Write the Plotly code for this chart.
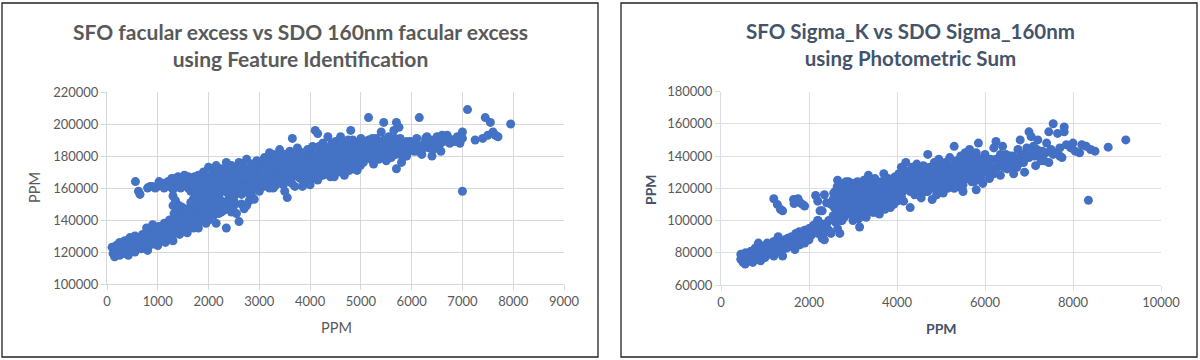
import plotly.graph_objects as go

# ---------------- Left chart: Feature Identification (x in PPM, y in thousands of PPM) ----------------
fi_points = [
    (100,123),(120,119),(150,121),(150,117),(180,124),(200,120),(220,122),(250,118),(250,126),(280,121),
    (300,124),(320,119),(350,122),(350,127),(380,120),(400,125),(420,118),(450,123),(450,129),(480,121),
    (500,126),(520,124),(550,130),(550,120),(580,127),(600,123),(620,129),(650,125),(680,122),(700,131),(700,127),
    (750,126),(780,135),(800,129),(800,121),(830,124),(850,132),(880,127),(900,137),(900,130),(920,125),
    (950,128),(980,133),(1000,124),(1000,130),(1020,136),(1050,127),(1080,132),(1100,129),(1100,134),(1130,138),
    (1150,126),(1180,131),(1200,135),(1200,128),(1230,140),(1250,133),(1280,130),(1300,127),(1300,137),(1300,149),
    (1320,144),(1350,133),(1380,140),(1400,146),(1400,136),(1430,131),(1450,142),(1480,148),(1500,138),(1500,134),
    (1530,145),(1550,140),(1580,132),(1600,147),(1600,137),(1630,143),(1650,139),(1680,150),(1700,135),(1700,145),
    (1730,141),(1750,148),(1780,137),(1800,144),(1800,135),(1830,151),(1850,140),(1880,146),(1900,152),(1900,142),
    (1930,148),(1950,138),(1980,144),(2000,150),(2000,140),(2050,147),(2100,153),(2100,143),(2150,138),(2200,149),
    (2250,145),(2300,151),(2350,135),(2350,147),(2400,153),(2450,145),(2500,149),(2550,144),(2600,139),(2650,150),
    (2700,147),(2750,149),(2800,152),(2850,155),(2900,153),
    (130,122),(170,119),(230,125),(270,119),(330,123),(370,125),(430,121),(470,126),(530,128),(570,123),
    (630,126),(670,129),(730,129),(770,124),(820,131),(860,128),(940,132),(970,126),(1040,131),(1070,135),
    (1120,131),(1170,134),(1220,132),(1270,138),(1340,139),(1360,143),(1420,139),(1460,137),(1520,141),(1560,146),
    (1620,140),(1660,145),(1720,148),(1760,140),(1820,146),(1870,143),(1920,145),(1970,149),
    (200,123),(300,121),(400,122),(500,123),(600,126),(700,124),(800,126),(900,128),(1000,127),(1100,131),
    (1200,131),(1300,133),(1400,141),(1500,143),(1600,142),(1700,140),(1800,140),(1900,147),(2000,145),(2100,148),
    (2200,144),(2300,146),(2400,149),(2500,152),
    (1350,152),(1420,149),(1700,153),(1750,150),(1800,152),(1850,155),(1650,151),(1900,149),(2050,152),(2250,152),(2450,151),
    (560,164),(620,158),(650,156),(800,160),(850,161),(900,161),(950,160),(1000,161),(1050,162),(1100,163),
    (1150,162),(1200,164),(1250,163),(1300,165),(1300,159),(1300,155),(1350,166),(1400,162),(1400,167),(1450,160),
    (1500,165),(1550,163),(1600,167),(1600,160),(1650,158),(1700,165),(1750,162),(1750,155),(1800,168),(1800,158),
    (1850,164),(1900,161),(1900,170),(1950,166),(1950,156),(2000,173),(2000,163),(2000,154),
    (1025,164),(1125,160),(1225,161),(1275,166),(1375,164),(1425,165),(1475,163),(1525,168),(1575,161),(1625,164),
    (1675,162),(1725,167),(1775,165),(1825,162),(1875,167),(1925,164),(1975,160),
    (2050,168),(2050,159),(2100,171),(2100,162),(2100,156),(2150,166),(2150,174),(2200,160),(2200,169),(2200,155),
    (2250,172),(2250,163),(2300,167),(2300,158),(2350,176),(2350,161),(2400,170),(2400,165),(2400,156),(2450,174),
    (2450,160),(2500,168),(2500,163),(2500,155),(2550,172),(2550,158),(2600,166),(2600,176),(2600,161),(2650,170),
    (2650,156),(2700,173),(2700,164),(2700,159),(2750,178),(2750,167),(2800,171),(2800,162),(2800,157),(2850,175),
    (2850,166),(2900,169),(2900,160),(2950,177),(2950,164),(3000,172),(3000,167),(3000,158),
    (2025,165),(2075,157),(2125,169),(2175,161),(2225,166),(2275,159),(2325,171),(2375,164),(2425,168),(2475,158),
    (2525,166),(2575,170),(2625,163),(2675,167),(2725,161),(2775,171),(2825,165),(2875,170),(2925,163),(2975,168),
    (2075,164),(2175,170),(2275,168),(2375,157),(2475,171),(2575,162),(2675,175),(2775,157),(2875,159),(2975,174),
    (2040,161),(2090,166),(2140,158),(2190,165),(2240,168),(2290,163),(2340,166),(2390,160),(2440,165),(2490,173),
    (2540,163),(2590,157),(2640,173),(2690,161),(2740,171),(2790,167),(2840,160),(2890,173),(2940,167),(2990,162),
    (3050,175),(3050,163),(3100,170),(3100,179),(3150,166),(3150,174),(3200,182),(3200,169),(3200,160),(3250,177),
    (3250,165),(3300,172),(3300,180),(3300,161),(3350,168),(3350,176),(3400,184),(3400,171),(3400,163),(3450,178),
    (3450,166),(3500,174),(3500,181),(3500,158),(3550,169),(3550,154),(3550,177),(3600,183),(3600,172),(3600,164),
    (3650,191),(3650,176),(3650,167),(3700,180),(3700,170),(3700,161),(3750,185),(3750,174),(3800,178),(3800,166),
    (3850,182),(3850,171),(3850,161),(3900,176),(3900,168),(3950,184),(3950,173),(4000,179),(4000,170),(4000,162),
    (3025,168),(3075,172),(3125,164),(3175,177),(3225,171),(3275,160),(3325,174),(3375,166),(3425,181),(3475,170),
    (3525,165),(3575,173),(3625,168),(3675,180),(3725,176),(3775,167),(3825,175),(3875,165),(3925,179),(3975,166),
    (3075,167),(3175,162),(3275,181),(3375,172),(3475,162),(3575,180),(3675,172),(3775,181),(3875,177),(3975,176),
    (3040,170),(3090,161),(3140,177),(3190,172),(3240,168),(3290,176),(3340,163),(3390,178),(3440,173),(3490,167),
    (3540,172),(3590,176),(3640,163),(3690,175),(3740,170),(3790,173),(3840,168),(3890,172),(3940,169),(3990,183),
    (4050,186),(4050,175),(4050,166),(4100,196),(4100,181),(4100,171),(4150,194),(4150,178),(4150,165),(4200,184),
    (4200,173),(4250,188),(4250,177),(4250,168),(4300,182),(4300,171),(4350,192),(4350,179),(4400,185),(4400,174),
    (4400,167),(4450,181),(4450,172),(4500,189),(4500,177),(4550,184),(4550,170),(4600,192),(4600,180),(4650,186),
    (4650,174),(4700,183),(4700,171),(4750,190),(4750,178),(4800,196),(4800,185),(4800,175),(4850,181),(4850,172),
    (4900,188),(4900,178),(4950,184),(4950,174),(5000,191),(5000,180),
    (4025,172),(4075,180),(4125,175),(4175,186),(4225,170),(4275,183),(4325,175),(4375,169),(4425,188),(4475,177),
    (4525,173),(4575,186),(4625,176),(4675,189),(4725,174),(4775,183),(4825,179),(4875,186),(4925,171),(4975,186),
    (4075,169),(4175,167),(4275,174),(4375,185),(4475,167),(4575,179),(4675,168),(4775,171),(4875,176),(4975,177),
    (4040,178),(4090,176),(4140,170),(4190,178),(4240,182),(4290,178),(4340,172),(4390,180),(4440,176),(4490,183),
    (4540,180),(4590,174),(4640,182),(4690,178),(4740,186),(4790,179),(4840,190),(4890,183),(4940,179),(4990,174),
    (5050,186),(5050,176),(5100,183),(5150,204),(5150,190),(5200,187),(5200,178),(5250,184),(5250,175),(5300,191),
    (5300,181),(5350,188),(5350,178),(5400,195),(5400,184),(5450,201),(5450,190),(5450,180),(5500,187),(5500,177),
    (5550,192),(5550,183),(5600,188),(5600,179),(5650,196),(5650,185),(5700,201),(5700,190),(5700,172),(5750,198),
    (5750,182),(5800,187),(5800,176),(5850,183),(5900,189),(5900,180),(5950,185),
    (5025,182),(5075,189),(5125,179),(5175,184),(5225,191),(5275,180),(5325,186),(5375,183),(5425,187),(5475,184),
    (5525,179),(5575,187),(5625,182),(5675,191),(5725,186),(5775,191),(5825,179),(5875,186),(5925,183),(5975,189),
    (5040,179),(5090,184),(5140,186),(5190,181),(5240,187),(5290,185),(5340,182),(5390,180),(5440,184),(5490,190),
    (5540,187),(5590,184),(5640,189),(5690,181),(5740,183),(5790,184),(5840,188),(5890,184),(5940,188),
    (6000,188),(6050,183),(6100,191),(6150,204),(6150,186),(6200,181),(6250,188),(6300,192),(6350,185),(6400,180),
    (6450,189),(6500,192),(6550,187),(6600,193),(6650,190),(6700,193),(6750,188),(6800,190),(6950,188),(7000,195),
    (6025,185),(6075,188),(6125,183),(6225,185),(6275,191),(6325,187),(6375,190),(6425,184),(6525,190),(6575,183),
    (6625,189),(6725,191),(6850,189),(6900,192),
    (7000,191),(7000,158),(7100,209),(7250,190),(7400,191),(7450,204),(7500,193),(7550,201),(7600,195),(7650,193),
    (7700,192),(7950,200),
]

# ---------------- Right chart: Photometric Sum (x in PPM, y in thousands of PPM) ----------------
ps_points = [
    (450,79),(450,76),(500,74),(520,78),(550,73),(560,80),(600,76),(620,79),(650,75),(680,81),
    (700,77),(720,74),(750,79),(780,83),(800,76),(820,80),(850,86),(850,78),(880,82),(900,75),
    (920,79),(950,84),(980,80),(1000,77),(1020,83),(1050,86),(1080,79),(1100,82),(1150,85),(1150,80),
    (1200,83),(1200,78),(1250,86),(1280,81),(1300,90),(1320,84),(1350,87),(1400,82),(1400,78),(1450,88),
    (1480,85),(1500,83),(1520,89),(1550,86),(1600,90),(1600,84),(1650,88),(1680,82),(1700,92),(1720,86),
    (1750,89),(1780,93),(1800,85),(1820,91),(1850,88),(1900,94),(1900,89),(1950,92),(2000,88),(2000,95),
    (2050,91),(2100,97),(2150,93),(2200,100),(2250,96),(2300,89),(2350,88),(2400,98),(2450,94),(2500,92),
    (2550,103),(2600,99),(2650,95),(2700,92),(2750,100),
    (470,78),(530,76),(580,78),(630,77),(670,78),(730,80),(770,77),(830,82),(870,80),(930,82),
    (970,78),(1030,80),(1070,82),(1120,84),(1170,82),(1230,84),(1270,83),(1330,86),(1380,85),(1430,86),
    (1470,83),(1530,87),(1580,88),(1630,86),(1700,88),(1770,87),(1830,89),(1880,91),(1930,90),(1980,93),
    (2030,94),(2080,92),(2130,96),(2180,95),(2280,98),(2330,94),(2450,100),
    (500,77),(600,78),(700,80),(800,79),(900,81),(1000,81),(1100,85),(1200,87),(1300,86),(1400,85),
    (1500,87),(1600,87),(1700,85),(1800,89),(1900,86),(2000,91),(2100,94),(2200,92),(2300,95),(2400,93),
    (1200,113.5),(1280,110),(1350,107),(1400,106),(1650,113),(1660,110.5),(1750,113.5),(1800,111),(1850,110),(1900,109),
    (2150,115.5),(2200,112),(2250,106),(2300,106),(2350,116),(2400,111),(2200,100),
    (2500,110),(2550,113),(2600,118),(2650,125),(2650,115),(2700,121),(2700,110),(2750,117),(2750,106),(2800,122),
    (2800,112),(2800,102),(2850,119),(2850,108),(2900,124),(2900,115),(2900,104),(2950,120),(2950,110),(3000,123),
    (3000,116),(3000,106),(3000,100),(3050,119),(3050,112),(3100,124),(3100,109),(3100,103),(3150,117),(3150,96),
    (3200,121),(3200,113),(3200,106),(3250,125),(3250,116),(3300,120),(3300,110),(3300,102),(3350,128),(3350,117),
    (3400,123),(3400,112),(3450,119),(3450,105),(3500,126),(3500,115),(3550,121),(3550,108),(3600,117),(3600,104),
    (3650,124),(3650,113),(3700,129),(3700,119),(3750,122),(3750,110),(3800,126),(3800,116),(3850,120),(3850,108),
    (3900,124),(3900,114),(3950,127),(3950,118),(4000,122),(4000,112),
    (2575,108),(2625,112),(2675,118),(2725,113),(2775,120),(2825,115),(2875,112),(2925,118),(2975,113),(3025,121),
    (3075,106),(3125,114),(3175,120),(3225,110),(3275,121),(3325,114),(3375,120),(3425,116),(3475,122),(3525,112),
    (3575,118),(3625,121),(3675,116),(3725,124),(3775,118),(3825,123),(3875,117),(3925,120),(3975,124),
    (2625,104),(2725,100),(2825,106),(2925,108),(3025,103),(3125,101),(3225,103),(3325,106),(3425,109),(3525,105),
    (3625,110),(3725,107),(3825,112),(3925,110),
    (2560,117),(2640,121),(2690,106),(2740,114),(2790,118),(2840,124),(2890,109),(2940,115),(2990,119),(3040,116),
    (3090,121),(3140,111),(3190,116),(3240,119),(3290,117),(3340,110),(3390,125),(3440,113),(3490,118),(3540,124),
    (3590,113),(3640,118),(3690,112),(3740,115),(3790,121),(3840,117),(3890,121),(3940,114),(3990,117),
    (4050,126),(4050,117),(4100,133),(4100,121),(4150,128),(4150,112),(4200,124),(4200,136),(4250,130),(4250,119),
    (4300,126),(4300,108),(4350,133),(4350,121),(4400,129),(4400,116),(4450,135),(4450,124),(4500,131),(4500,120),
    (4550,127),(4550,114),(4600,134),(4600,123),(4650,130),(4650,118),(4700,141),(4700,126),(4750,133),(4750,121),
    (4800,129),(4800,113),(4850,136),(4850,124),(4900,131),(4900,119),(4950,138),(4950,126),(5000,133),(5000,122),
    (5050,129),(5050,117),(5100,136),(5100,125),(5150,132),(5150,120),(5200,139),(5200,128),(5250,134),(5250,123),
    (5300,146),(5300,130),(5350,137),(5350,125),(5400,133),(5400,121),(5450,140),(5450,129),(5500,135),(5500,118),
    (5550,142),(5550,131),(5600,138),(5600,126),(5650,144),(5650,134),(5700,140),(5700,128),(5750,136),(5750,124),
    (5800,142),(5800,119),(5850,148),(5850,132),(5900,138),(5900,127),(5950,135),(5950,123),(6000,141),(6000,130),
    (4025,120),(4075,124),(4125,118),(4175,131),(4225,127),(4275,124),(4325,130),(4375,126),(4425,120),(4475,129),
    (4525,125),(4575,131),(4625,127),(4675,123),(4725,130),(4775,126),(4825,120),(4875,130),(4925,127),(4975,130),
    (5025,125),(5075,133),(5125,128),(5175,124),(5225,131),(5275,128),(5325,134),(5375,130),(5425,126),(5475,134),
    (5525,130),(5575,126),(5625,131),(5675,137),(5725,133),(5775,130),(5825,136),(5875,129),(5925,131),(5975,138),
    (4040,129),(4140,124),(4240,121),(4340,127),(4440,127),(4540,122),(4640,133),(4740,124),(4840,128),(4940,123),
    (5040,131),(5140,126),(5240,126),(5340,128),(5440,132),(5540,127),(5640,128),(5740,138),(5840,127),(5940,133),
    (4100,115),(4300,118),(4500,117),(4700,118),(4900,116),(5100,121),(5300,120),(5500,122),(5700,124),(5900,125),
    (6050,137),(6100,126),(6150,133),(6200,145),(6200,129),(6250,149),(6250,138),(6300,134),(6350,141),(6350,128),
    (6400,146),(6450,137),(6500,132),(6550,140),(6600,135),(6650,129),(6700,138),(6750,144),(6800,150),(6800,136),
    (6850,141),(6900,130),(6950,145),(7000,155),(7000,139),(7050,152),(7100,146),(7150,134),(7200,150),(7250,140),
    (6025,133),(6075,131),(6125,138),(6175,131),(6275,133),(6325,137),(6425,133),(6475,141),(6525,136),(6575,133),
    (6625,140),(6725,133),(6775,139),(6875,136),(6925,140),(7025,143),(7125,140),(7175,144),(7275,137),(7375,142),
    (7550,141),(7700,140),
    (7300,143),(7350,137),(7400,148),(7450,155),(7450,136),(7500,144),(7550,160),(7600,142),(7650,154),(7700,145),
    (7750,139),(7800,158),(7800,155),(7850,147),(7950,145),(8000,148),(8050,143),(8150,142),(8200,147),(8300,146),
    (8350,112.5),(8400,144),(8500,143),(8800,145.5),(9200,150),
]

left_title = "SFO facular excess vs SDO 160nm facular excess<br>using Feature Identification"
right_title = "SFO Sigma_K vs SDO Sigma_160nm<br>using Photometric Sum"
axis_label = "PPM"
left_xticks = list(range(0, 9001, 1000))
left_yticks = list(range(100000, 220001, 20000))
right_xticks = list(range(0, 10001, 2000))
right_yticks = list(range(60000, 180001, 20000))

W, H = 1200, 360
BLUE = "#4472C4"
GRID = "#D9D9D9"
FONT = "Lato, 'Open Sans', sans-serif"

fig = go.Figure()
fig.add_trace(go.Scatter(
    x=[p[0] for p in fi_points], y=[p[1] * 1000 for p in fi_points],
    mode="markers", marker=dict(size=9, color=BLUE, line=dict(width=0)),
    xaxis="x", yaxis="y", showlegend=False, hoverinfo="x+y"))
fig.add_trace(go.Scatter(
    x=[p[0] for p in ps_points], y=[p[1] * 1000 for p in ps_points],
    mode="markers", marker=dict(size=9, color="#4370C4", line=dict(width=0)),
    xaxis="x2", yaxis="y2", showlegend=False, hoverinfo="x+y"))

def ax(domain, rng, ticks, anchor, lc):
    return dict(domain=domain, range=rng, tickvals=ticks, tickformat="d",
                showgrid=True, gridcolor=lc, gridwidth=1, zeroline=False,
                showline=True, linecolor=lc, linewidth=1,
                ticks="outside", ticklen=5, tickcolor=lc,
                tickfont=dict(family=FONT, size=13, color="#595959"),
                anchor=anchor, fixedrange=True, automargin=False)

fig.update_layout(
    width=W, height=H, margin=dict(l=0, r=0, t=0, b=0, autoexpand=False),
    paper_bgcolor="white", plot_bgcolor="white",
    xaxis=ax([107/W, 564/W], [0, 9000], left_xticks, "y", GRID),
    yaxis=ax([1-284/H, 1-92/H], [100000, 220000], left_yticks, "x", GRID),
    xaxis2=ax([721/W, 1161/W], [0, 10000], right_xticks, "y2", "#D9DDE6"),
    yaxis2=ax([1-285/H, 1-91.5/H], [60000, 180000], right_yticks, "x2", "#D9DDE6"),
)

# panel borders
for x0, x1 in [(2, 598), (621, 1197)]:
    fig.add_shape(type="rect", xref="paper", yref="paper",
                  x0=x0/W, x1=x1/W, y0=1-357/H, y1=1-3/H,
                  line=dict(color="#222222", width=1.3), fillcolor="rgba(0,0,0,0)")

def ann(text, x, y, size, color, bold=False, angle=0):
    fig.add_annotation(text=f"<b>{text}</b>" if bold else text, xref="paper", yref="paper",
                       x=x/W, y=1-y/H, showarrow=False, textangle=angle,
                       font=dict(family=FONT, size=size, color=color),
                       xanchor="center", yanchor="middle", align="center")

ann(left_title, 300, 44.5, 21, "#595959", bold=True)
ann(right_title, 910, 44.5, 20.5, "#44546A", bold=True)
ann(axis_label, 336, 327, 14.5, "#595959")
ann(axis_label, 34, 188, 14.5, "#595959", angle=-90)
ann(axis_label, 941, 328, 14, "#44546A", bold=True)
ann(axis_label, 650, 190, 14, "#44546A", bold=True, angle=-90)

fig.write_html("out.html", config={"displayModeBar": False},
               post_script="document.body.style.margin='0';document.body.style.overflow='hidden';")
